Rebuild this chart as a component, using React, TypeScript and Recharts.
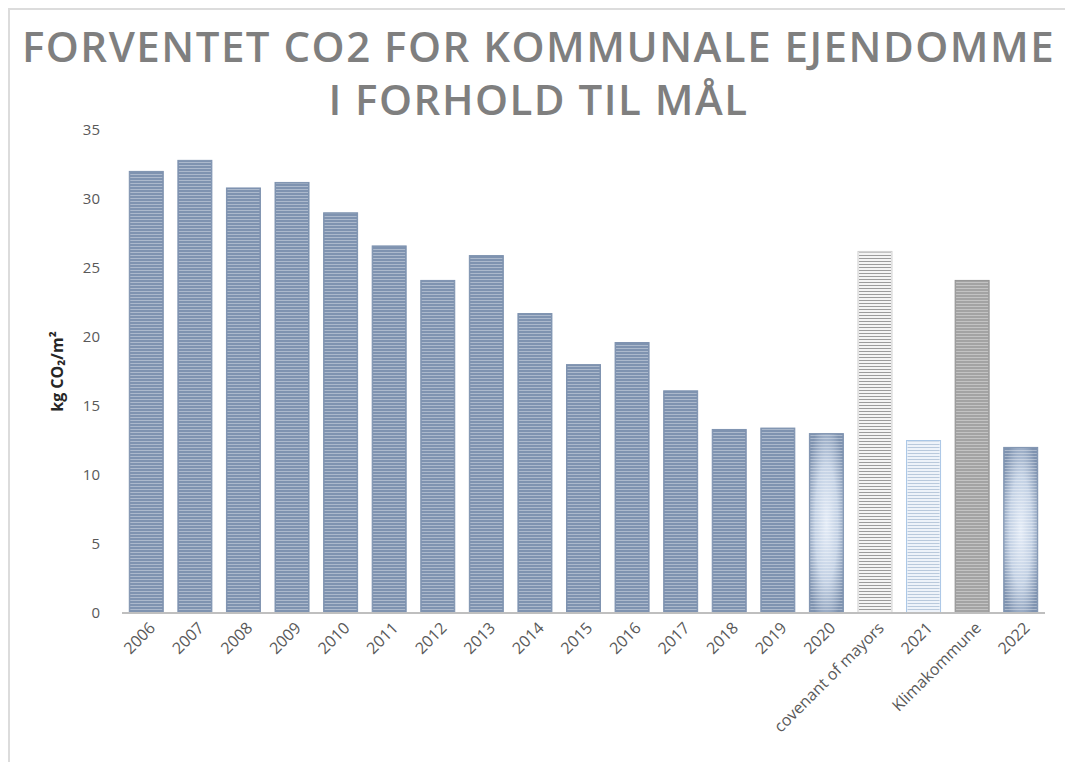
import { BarChart, Bar, XAxis, YAxis, Cell } from "recharts";

const categories = [
  "2006", "2007", "2008", "2009", "2010", "2011", "2012", "2013", "2014", "2015",
  "2016", "2017", "2018", "2019", "2020", "covenant of mayors", "2021", "Klimakommune", "2022",
];
const values = [
  32.0, 32.8, 30.8, 31.2, 29.0, 26.6, 24.1, 25.9, 21.7, 18.0,
  19.6, 16.1, 13.3, 13.4, 13.0, 26.2, 12.5, 24.1, 12.0,
];
const yTicks = [0, 5, 10, 15, 20, 25, 30, 35];
const titleLines = ["FORVENTET CO2 FOR KOMMUNALE EJENDOMME", "I FORHOLD TIL MÅL"];

const data = categories.map((name, i) => ({ name, value: values[i] }));

// bar look per category (everything else gets the default blue)
const looks: Record<string, { fill: string; stripe: string; stroke: string }> = {
  default: { fill: "#7f93b0", stripe: "url(#stripeLight)", stroke: "#7f93b0" },
  "2020": { fill: "url(#blueGlow)", stripe: "url(#stripeLight)", stroke: "#7f93b0" },
  "2022": { fill: "url(#blueGlow)", stripe: "url(#stripeLight)", stroke: "#7f93b0" },
  "covenant of mayors": { fill: "#f4f4f4", stripe: "url(#stripeGrey)", stroke: "#d0d0d0" },
  "2021": { fill: "#eef3fa", stripe: "url(#stripeBlue)", stroke: "#a9c6e6" },
  Klimakommune: { fill: "#a3a3a3", stripe: "url(#stripeLight)", stroke: "#939393" },
};

const font = "'Open Sans', 'DejaVu Sans', sans-serif";

function StripedBar(props: any) {
  const { x, y, width, height, payload } = props;
  const look = looks[payload.name] ?? looks.default;
  if (!height || height <= 0) return null;
  return (
    <g>
      <rect x={x} y={y} width={width} height={height} fill={look.fill} stroke={look.stroke} strokeWidth={1} />
      <rect x={x + 1} y={y + 1} width={width - 2} height={height - 2} fill={look.stripe} />
    </g>
  );
}

function renderXTick(props: any) {
  const { x, y, payload } = props;
  return (
    <g transform={`translate(${x + 10},${y + 8}) rotate(-45)`}>
      <text x={0} y={0} textAnchor="end" fontSize={16} fill="#595959" fontFamily={font}>
        {payload.value}
      </text>
    </g>
  );
}

export default function App() {
  return (
    <div
      style={{
        position: "absolute",
        left: 0,
        top: 0,
        width: 1065,
        height: 762,
        background: "#fff",
        overflow: "hidden",
      }}
    >
      <svg width={0} height={0} style={{ position: "absolute" }}>
        <defs>
          <pattern id="stripeLight" width={4} height={3} patternUnits="userSpaceOnUse">
            <rect x={0} y={0} width={4} height={1} fill="#ffffff" fillOpacity={0.35} />
          </pattern>
          <pattern id="stripeGrey" width={4} height={3} patternUnits="userSpaceOnUse">
            <rect x={0} y={0} width={4} height={1} fill="#9c9c9c" />
          </pattern>
          <pattern id="stripeBlue" width={4} height={3} patternUnits="userSpaceOnUse">
            <rect x={0} y={0} width={4} height={1} fill="#b9c9dc" />
          </pattern>
          <radialGradient id="blueGlow" cx="50%" cy="50%" r="60%">
            <stop offset="0%" stopColor="#e4ecf7" />
            <stop offset="55%" stopColor="#c3d1e4" />
            <stop offset="100%" stopColor="#7f93b0" />
          </radialGradient>
        </defs>
      </svg>

      <div
        style={{
          position: "absolute",
          left: 8,
          top: 8,
          width: 1200,
          height: 900,
          border: "2px solid #dcdcdc",
          boxSizing: "border-box",
        }}
      />

      {titleLines.map((line, i) => (
        <div
          key={line}
          style={{
            position: "absolute",
            left: 12,
            width: 1053,
            top: 20 + i * 53,
            textAlign: "center",
            fontFamily: font,
            fontWeight: 600,
            fontSize: 42,
            letterSpacing: 1.5,
            color: "#7f7f7f",
            lineHeight: "52px",
          }}
        >
          {line}
        </div>
      ))}

      <div style={{ position: "absolute", left: 0, top: 0 }}>
        <BarChart
          width={1065}
          height={762}
          data={data}
          margin={{ top: 130, right: 20, left: 72, bottom: 29 }}
          barCategoryGap="15%"
        >
          <XAxis
            dataKey="name"
            interval={0}
            height={120}
            tickLine={false}
            axisLine={{ stroke: "#bfbfbf", strokeWidth: 2 }}
            tick={renderXTick}
          />
          <YAxis
            width={50}
            domain={[0, 35]}
            ticks={yTicks}
            axisLine={false}
            tickLine={false}
            tickMargin={16}
            tick={{ fontSize: 15, fill: "#595959", fontFamily: font }}
            label={{
              value: "kg CO₂/m²",
              angle: -90,
              position: "insideLeft",
              offset: -15,
              style: { fontSize: 16, fontWeight: 700, fill: "#262626", fontFamily: font, textAnchor: "middle" },
            }}
          />
          <Bar dataKey="value" isAnimationActive={false} shape={<StripedBar />}>
            {data.map((d) => (
              <Cell key={d.name} />
            ))}
          </Bar>
        </BarChart>
      </div>
    </div>
  );
}
